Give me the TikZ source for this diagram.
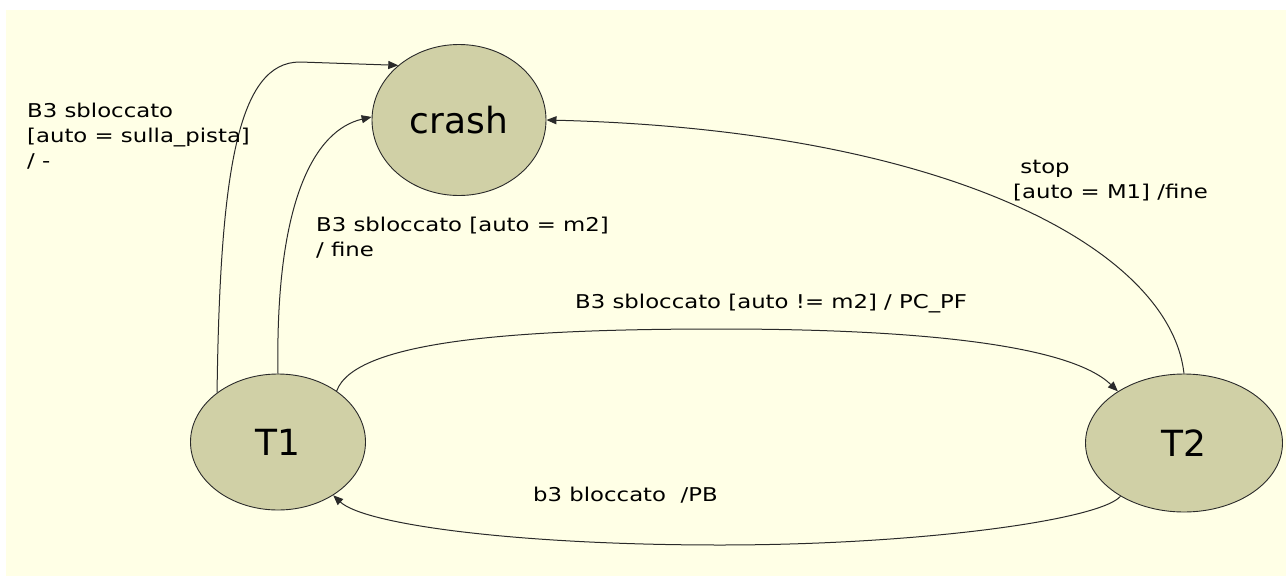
\documentclass[tikz,border=0pt]{standalone}
\usepackage{fontspec}
\setmainfont{DejaVu Sans}
\newfontfamily\lblfont{DejaVu Sans}[FakeStretch=1.2]
\usetikzlibrary{arrows.meta,shapes.geometric}
\definecolor{bgyellow}{HTML}{FFFFE6}
\definecolor{statefill}{HTML}{D0D0A6}
\definecolor{edgecol}{HTML}{2A2A2A}
\tikzset{
  state/.style={ellipse, draw=edgecol, fill=statefill, line width=0.9pt, inner sep=0pt, font=\fontsize{36}{40}\selectfont},
  trans/.style={draw=edgecol, line width=1pt, -{Triangle[length=10pt,width=8pt]}},
  lbl/.style={anchor=north west, inner sep=0pt, align=left, font=\lblfont\fontsize{19}{25}\selectfont},
}
\begin{document}
\begin{tikzpicture}[x=1pt,y=-1pt]
\useasboundingbox (0,0) rectangle (1286,576);
\fill[white] (0,0) rectangle (1286,576);
\fill[bgyellow] (6,10) rectangle (1286,576);

\node[state, minimum width=174pt, minimum height=151pt] (crash) at (459,120) {crash};
\node[state, minimum width=175pt, minimum height=136pt] (T1) at (278,442) {T1};
\node[state, minimum width=197pt, minimum height=138pt] (T2) at (1184,443) {T2};

\coordinate (c1) at (300,62);
\draw[trans] (T1.141) .. controls (220,170) and (238,62) .. (c1) -- (crash.138);
\draw[trans] (T1.north) .. controls (275,200) and (315,130) .. (crash.178);
\coordinate (top) at (720,329);
\draw[trans] (T1.41) .. controls (355,340) and (520,329) .. (top) .. controls (920,329) and (1070,345) .. (T2.142);
\coordinate (bot) at (720,545);
\draw[trans] (T2.-140) .. controls (1100,520) and (920,545) .. (bot) .. controls (520,545) and (365,525) .. (T1.-44);
\draw[trans] (T2.north) .. controls (1170,250) and (950,130) .. (crash.east);

\node[lbl] (l1) at (27,103) {B3 sbloccato\\{}[auto = sulla\_pista]\\/ -};
\node[lbl] (l2) at (316,217) {B3 sbloccato [auto = m2]\\/ fine};
\node[lbl] (l3) at (1013,160) {\ stop\\{}[auto = M1] /fine};
\node[lbl] (l4) at (575,294) {B3 sbloccato [auto != m2] / PC\_PF};
\node[lbl] (l5) at (533,487) {b3 bloccato \ /PB};
\end{tikzpicture}
\end{document}
